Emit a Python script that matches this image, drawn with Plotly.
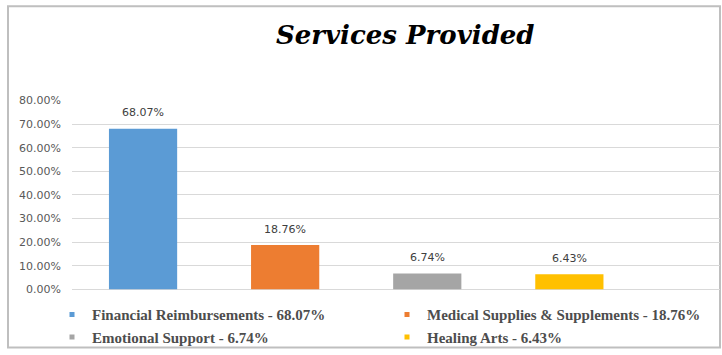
import plotly.graph_objects as go

categories = ["Financial Reimbursements", "Medical Supplies & Supplements", "Emotional Support", "Healing Arts"]
values = [0.6807, 0.1876, 0.0674, 0.0643]
colors = ["#5B9BD5", "#ED7D31", "#A5A5A5", "#FFC000"]
y_ticks = [0, 0.1, 0.2, 0.3, 0.4, 0.5, 0.6, 0.7, 0.8]
title_text = "Services Provided"

W, H = 722, 355
ML, MR, MT, MB = 2, 2, 100, 2
pw = W - ML - MR
ph = H - MT - MB


def px_x(x):
    return (x - ML) / pw


def px_y(y):
    return (H - MB - y) / ph


fig = go.Figure()
for c, v, col in zip(categories, values, colors):
    fig.add_trace(go.Bar(x=[c], y=[v], marker=dict(color=col, line=dict(width=0)),
                         width=0.48, showlegend=False, hoverinfo="skip"))
for c, v, col in zip(categories, values, colors):
    fig.add_trace(go.Scatter(x=[None], y=[None], mode="markers",
                             marker=dict(symbol="square", size=5, color=col),
                             name=f"<b>{c} - {v*100:.2f}%</b>"))

for c, v in zip(categories, values):
    fig.add_annotation(x=c, y=v, text=f"{v*100:.2f}%", showarrow=False,
                       yshift=16, font=dict(family="DejaVu Sans", size=11, color="#404040"))

fig.add_annotation(xref="paper", yref="paper", x=px_x(405), y=px_y(33),
                   text=f"<b><i>{title_text}</i></b>",
                   showarrow=False, xanchor="center", yanchor="middle",
                   font=dict(family="DejaVu Serif", size=26, color="#000000"))

fig.add_shape(type="rect", xref="paper", yref="paper",
              x0=px_x(8), x1=px_x(720), y0=px_y(353.5), y1=px_y(4),
              line=dict(color="#bfbfbf", width=2), layer="below")

fig.update_layout(
    width=W, height=H,
    margin=dict(l=ML, r=MR, t=MT, b=MB),
    paper_bgcolor="white", plot_bgcolor="white",
    xaxis=dict(type="category", categoryorder="array", categoryarray=categories,
               domain=[px_x(72), 1],
               range=[-0.5, 4.06], showticklabels=False, showgrid=False,
               zeroline=False, showline=False, fixedrange=True, automargin=False),
    yaxis=dict(range=[0, 0.8], tickvals=y_ticks, tickformat=".2%",
               domain=[px_y(294), px_y(100.5)], automargin=False,
               showgrid=True, gridcolor="#d9d9d9", gridwidth=1,
               zeroline=True, zerolinecolor="#d9d9d9", zerolinewidth=1,
               showline=False, ticks="", ticklabelstandoff=10,
               tickfont=dict(family="DejaVu Sans", size=11, color="#595959")),
    legend=dict(orientation="h", x=px_x(58), xanchor="left",
                y=px_y(303), yanchor="top",
                entrywidth=290, entrywidthmode="pixels",
                font=dict(family="Liberation Serif", size=15, color="#4d4d4d"),
                itemwidth=30, bgcolor="rgba(0,0,0,0)"),
    showlegend=True,
)

fig.write_html("out.html")
